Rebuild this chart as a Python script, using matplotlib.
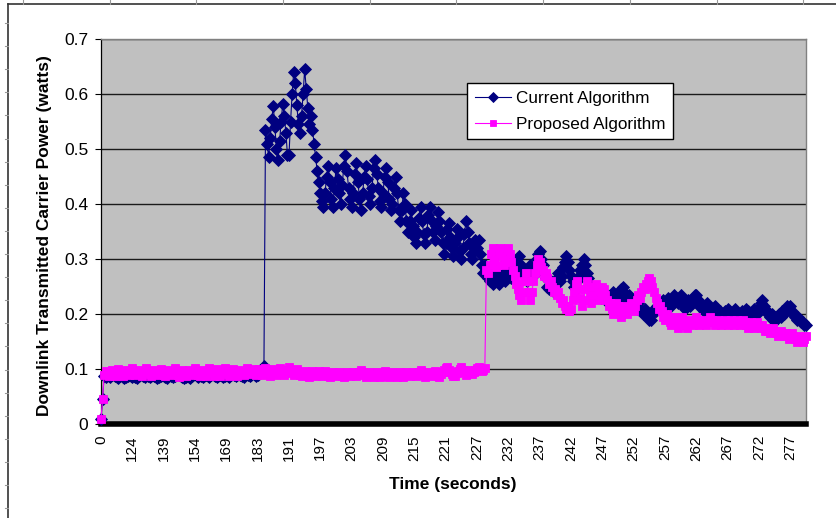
import matplotlib
matplotlib.use("Agg")
import matplotlib.pyplot as plt
from matplotlib.lines import Line2D

plt.rcParams['font.family'] = ['Liberation Sans', 'DejaVu Sans']

# ---------------- data ----------------
tick_labels = ['0', '124', '139', '154', '169', '183', '191', '197', '203', '209',
               '215', '221', '227', '232', '237', '242', '247', '252', '257', '262',
               '267', '272', '277']
tick_step = 20   # samples between labelled categories

current_power = [
    # 0
    0.010, 0.045, 0.088, 0.086, 0.090, 0.087, 0.085, 0.089, 0.091, 0.088,
    0.086, 0.084, 0.087, 0.089, 0.086, 0.083, 0.085, 0.088, 0.090, 0.087,
    # 124
    0.085, 0.088, 0.086, 0.084, 0.087, 0.089, 0.091, 0.088, 0.086, 0.089,
    0.087, 0.085, 0.088, 0.090, 0.087, 0.085, 0.083, 0.086, 0.088, 0.090,
    # 139
    0.088, 0.086, 0.084, 0.087, 0.089, 0.087, 0.085, 0.088, 0.090, 0.092,
    0.089, 0.087, 0.085, 0.083, 0.086, 0.088, 0.086, 0.084, 0.087, 0.089,
    # 154
    0.091, 0.088, 0.086, 0.089, 0.087, 0.085, 0.088, 0.090, 0.088, 0.086,
    0.089, 0.091, 0.089, 0.087, 0.085, 0.088, 0.090, 0.087, 0.086, 0.088,
    # 169
    0.090, 0.088, 0.086, 0.089, 0.091, 0.089, 0.087, 0.090, 0.092, 0.090,
    0.088, 0.086, 0.089, 0.091, 0.089, 0.087, 0.090, 0.092, 0.090, 0.088,
    # 183
    0.090, 0.092, 0.094, 0.097, 0.105, 0.535, 0.510, 0.485, 0.520, 0.555,
    0.578, 0.540, 0.500, 0.480, 0.515, 0.550, 0.582, 0.560, 0.530, 0.490,
    # 191
    0.490, 0.550, 0.600, 0.640, 0.620, 0.580, 0.545, 0.530, 0.560, 0.600,
    0.645, 0.610, 0.575, 0.545, 0.560, 0.535, 0.510, 0.485, 0.460, 0.440,
    # 197
    0.420, 0.405, 0.395, 0.420, 0.450, 0.470, 0.440, 0.410, 0.395, 0.430,
    0.465, 0.445, 0.420, 0.400, 0.435, 0.470, 0.490, 0.460, 0.430, 0.410,
    # 203
    0.395, 0.420, 0.455, 0.475, 0.440, 0.410, 0.390, 0.420, 0.450, 0.470,
    0.445, 0.415, 0.400, 0.430, 0.465, 0.480, 0.455, 0.430, 0.405, 0.395,
    # 209
    0.420, 0.450, 0.465, 0.440, 0.410, 0.390, 0.400, 0.430, 0.450, 0.420,
    0.390, 0.370, 0.390, 0.420, 0.400, 0.370, 0.350, 0.370, 0.390, 0.360,
    # 215
    0.340, 0.330, 0.350, 0.375, 0.395, 0.370, 0.345, 0.330, 0.350, 0.380,
    0.395, 0.370, 0.350, 0.335, 0.360, 0.385, 0.370, 0.350, 0.330, 0.310,
    # 221
    0.330, 0.355, 0.365, 0.340, 0.320, 0.305, 0.330, 0.355, 0.340, 0.315,
    0.300, 0.320, 0.345, 0.370, 0.350, 0.330, 0.310, 0.300, 0.320, 0.335,
    # 227
    0.320, 0.335, 0.310, 0.290, 0.275, 0.290, 0.280, 0.265, 0.260, 0.270,
    0.255, 0.265, 0.280, 0.265, 0.255, 0.270, 0.285, 0.275, 0.260, 0.275,
    # 232
    0.290, 0.275, 0.265, 0.280, 0.295, 0.285, 0.290, 0.305, 0.290, 0.275,
    0.280, 0.270, 0.260, 0.275, 0.290, 0.280, 0.270, 0.285, 0.300, 0.310,
    # 237
    0.315, 0.300, 0.290, 0.275, 0.265, 0.250, 0.245, 0.260, 0.250, 0.240,
    0.255, 0.265, 0.275, 0.260, 0.270, 0.285, 0.295, 0.305, 0.295, 0.280,
    # 242
    0.270, 0.260, 0.250, 0.245, 0.260, 0.270, 0.280, 0.290, 0.300, 0.290,
    0.275, 0.265, 0.255, 0.245, 0.250, 0.240, 0.235, 0.245, 0.240, 0.230,
    # 247
    0.240, 0.230, 0.225, 0.235, 0.230, 0.220, 0.230, 0.240, 0.235, 0.225,
    0.220, 0.235, 0.245, 0.250, 0.240, 0.230, 0.225, 0.235, 0.230, 0.220,
    # 252
    0.225, 0.215, 0.210, 0.220, 0.210, 0.205, 0.200, 0.210, 0.200, 0.195,
    0.190, 0.190, 0.200, 0.210, 0.205, 0.215, 0.210, 0.220, 0.215, 0.225,
    # 257
    0.215, 0.220, 0.230, 0.225, 0.215, 0.225, 0.235, 0.230, 0.220, 0.230,
    0.235, 0.225, 0.215, 0.210, 0.220, 0.225, 0.215, 0.220, 0.230, 0.235,
    # 262
    0.235, 0.225, 0.215, 0.220, 0.210, 0.205, 0.215, 0.220, 0.210, 0.200,
    0.210, 0.205, 0.215, 0.210, 0.200, 0.205, 0.200, 0.195, 0.205, 0.200,
    # 267
    0.210, 0.205, 0.195, 0.200, 0.205, 0.210, 0.200, 0.195, 0.200, 0.205,
    0.195, 0.200, 0.210, 0.205, 0.200, 0.195, 0.200, 0.210, 0.205, 0.200,
    # 272
    0.210, 0.220, 0.225, 0.215, 0.210, 0.205, 0.200, 0.195, 0.200, 0.190,
    0.195, 0.190, 0.195, 0.200, 0.195, 0.205, 0.200, 0.210, 0.215, 0.210,
    # 277
    0.215, 0.205, 0.200, 0.195, 0.190, 0.195, 0.190, 0.185, 0.185, 0.180,
    0.180,
]

proposed_power = [
    # 0
    0.010, 0.045, 0.090, 0.097, 0.093, 0.088, 0.094, 0.099, 0.093, 0.088,
    0.095, 0.100, 0.096, 0.090, 0.087, 0.094, 0.099, 0.095, 0.089, 0.096,
    # 124
    0.101, 0.096, 0.089, 0.093, 0.099, 0.094, 0.088, 0.092, 0.097, 0.102,
    0.097, 0.091, 0.087, 0.094, 0.099, 0.095, 0.089, 0.093, 0.100, 0.096,
    # 139
    0.090, 0.087, 0.094, 0.099, 0.095, 0.089, 0.096, 0.101, 0.096, 0.089,
    0.086, 0.092, 0.098, 0.094, 0.088, 0.094, 0.099, 0.095, 0.089, 0.096,
    # 154
    0.101, 0.096, 0.090, 0.087, 0.094, 0.099, 0.094, 0.088, 0.096, 0.102,
    0.098, 0.092, 0.088, 0.094, 0.100, 0.095, 0.088, 0.092, 0.098, 0.102,
    # 169
    0.097, 0.091, 0.088, 0.095, 0.100, 0.096, 0.090, 0.087, 0.094, 0.099,
    0.094, 0.089, 0.096, 0.101, 0.097, 0.091, 0.096, 0.100, 0.095, 0.090,
    # 183
    0.095, 0.100, 0.096, 0.090, 0.097, 0.102, 0.098, 0.092, 0.088, 0.095,
    0.100, 0.096, 0.090, 0.097, 0.102, 0.098, 0.093, 0.089, 0.094, 0.099,
    # 191
    0.103, 0.098, 0.093, 0.089, 0.096, 0.100, 0.095, 0.090, 0.087, 0.092,
    0.097, 0.093, 0.088, 0.086, 0.091, 0.096, 0.092, 0.087, 0.091, 0.096,
    # 197
    0.092, 0.087, 0.091, 0.096, 0.092, 0.088, 0.086, 0.090, 0.095, 0.091,
    0.087, 0.090, 0.095, 0.091, 0.087, 0.085, 0.089, 0.094, 0.090, 0.087,
    # 203
    0.091, 0.095, 0.091, 0.087, 0.091, 0.095, 0.098, 0.094, 0.090, 0.086,
    0.090, 0.095, 0.091, 0.087, 0.085, 0.089, 0.094, 0.090, 0.086, 0.089,
    # 209
    0.093, 0.097, 0.093, 0.088, 0.086, 0.090, 0.095, 0.091, 0.087, 0.085,
    0.089, 0.094, 0.090, 0.086, 0.089, 0.094, 0.090, 0.087, 0.091, 0.095,
    # 215
    0.091, 0.087, 0.091, 0.095, 0.098, 0.094, 0.090, 0.086, 0.090, 0.095,
    0.091, 0.088, 0.092, 0.097, 0.093, 0.088, 0.086, 0.091, 0.095, 0.099,
    # 221
    0.101, 0.103, 0.099, 0.095, 0.091, 0.088, 0.087, 0.092, 0.096, 0.100,
    0.103, 0.099, 0.094, 0.090, 0.095, 0.099, 0.095, 0.091, 0.094, 0.098,
    # 227
    0.101, 0.103, 0.099, 0.096, 0.099, 0.102, 0.280, 0.275, 0.290, 0.310,
    0.320, 0.300, 0.285, 0.290, 0.310, 0.320, 0.305, 0.290, 0.300, 0.315,
    # 232
    0.320, 0.310, 0.295, 0.280, 0.270, 0.255, 0.245, 0.235, 0.225, 0.240,
    0.260, 0.275, 0.260, 0.240, 0.225, 0.240, 0.260, 0.275, 0.290, 0.300,
    # 237
    0.295, 0.285, 0.280, 0.270, 0.275, 0.265, 0.255, 0.260, 0.250, 0.240,
    0.245, 0.235, 0.240, 0.230, 0.220, 0.225, 0.215, 0.210, 0.215, 0.205,
    # 242
    0.210, 0.225, 0.240, 0.255, 0.260, 0.245, 0.230, 0.215, 0.225, 0.245,
    0.260, 0.250, 0.235, 0.220, 0.235, 0.250, 0.255, 0.240, 0.225, 0.235,
    # 247
    0.250, 0.245, 0.235, 0.225, 0.215, 0.220, 0.210, 0.200, 0.210, 0.220,
    0.215, 0.205, 0.195, 0.205, 0.215, 0.210, 0.200, 0.210, 0.220, 0.215,
    # 252
    0.205, 0.215, 0.225, 0.235, 0.230, 0.240, 0.250, 0.245, 0.255, 0.260,
    0.265, 0.260, 0.250, 0.240, 0.230, 0.220, 0.210, 0.215, 0.205, 0.195,
    # 257
    0.190, 0.200, 0.195, 0.185, 0.180, 0.190, 0.195, 0.185, 0.175, 0.180,
    0.190, 0.195, 0.185, 0.180, 0.175, 0.185, 0.190, 0.185, 0.180, 0.190,
    # 262
    0.195, 0.190, 0.180, 0.185, 0.190, 0.185, 0.180, 0.185, 0.190, 0.195,
    0.190, 0.185, 0.180, 0.185, 0.190, 0.185, 0.180, 0.185, 0.190, 0.185,
    # 267
    0.180, 0.185, 0.190, 0.185, 0.180, 0.185, 0.190, 0.185, 0.180, 0.185,
    0.190, 0.185, 0.180, 0.175, 0.180, 0.185, 0.180, 0.175, 0.180, 0.185,
    # 272
    0.180, 0.175, 0.180, 0.175, 0.170, 0.175, 0.170, 0.165, 0.170, 0.175,
    0.170, 0.165, 0.160, 0.165, 0.170, 0.165, 0.160, 0.165, 0.160, 0.155,
    # 277
    0.160, 0.165, 0.160, 0.155, 0.150, 0.155, 0.160, 0.155, 0.150, 0.155,
    0.160,
]

series_names = ['Current Algorithm', 'Proposed Algorithm']
y_ticks = [0, 0.1, 0.2, 0.3, 0.4, 0.5, 0.6, 0.7]
y_tick_labels = ['0', '0.1', '0.2', '0.3', '0.4', '0.5', '0.6', '0.7']

# ---------------- figure ----------------
W, H = 837, 518
fig = plt.figure(figsize=(W / 100, H / 100), dpi=100)
fig.patch.set_facecolor('white')

ax = fig.add_axes([101 / W, 1 - 424 / H, (806 - 101) / W, (424 - 39) / H])
ax.set_facecolor('#C0C0C0')

x_cur = list(range(len(current_power)))
x_pro = list(range(len(proposed_power)))

ax.plot(x_cur, current_power, color='#000080', lw=0.8, marker='D',
        markersize=6.2, markerfacecolor='#000080', markeredgecolor='#000080',
        markeredgewidth=0.6, clip_on=False, zorder=3, label=series_names[0])
ax.plot(x_pro, proposed_power, color='#FF00FF', lw=0.8, marker='s',
        markersize=5.8, markerfacecolor='#FF00FF', markeredgecolor='#FF00FF',
        markeredgewidth=0.6, clip_on=False, zorder=4, label=series_names[1])

n = max(len(current_power), len(proposed_power))
ax.set_xlim(0, n - 1)
ax.set_ylim(0, 0.7)

ax.set_yticks(y_ticks)
ax.set_yticklabels(y_tick_labels)
ax.set_xticks([i * tick_step for i in range(len(tick_labels))])
ax.set_xticklabels(tick_labels, rotation=90)

ax.tick_params(axis='y', direction='out', length=4, width=0.8, color='black',
               labelsize=12.5, pad=5)
ax.tick_params(axis='x', length=0, labelsize=11, pad=8)

ax.yaxis.grid(True, color='#1a1a1a', lw=1.0)
ax.set_axisbelow(True)

for s in ['top', 'right']:
    ax.spines[s].set_color('#808080')
    ax.spines[s].set_linewidth(1.0)
ax.spines['left'].set_color('black')
ax.spines['left'].set_linewidth(0.9)
ax.spines['bottom'].set_color('black')
ax.spines['bottom'].set_linewidth(4.0)
ax.spines['bottom'].set_zorder(2.5)

# axis titles
fig.text(453 / W, 1 - 484 / H, 'Time (seconds)', ha='center', va='center',
         fontsize=12.5, fontweight='bold')
fig.text(45 / W, 1 - 236 / H, 'Downlink Transmitted Carrier Power (watts)',
         ha='center', va='center', rotation=90, fontsize=12.5,
         fontweight='bold')

# legend
leg = ax.legend(loc='upper left', bbox_to_anchor=(467 / W, 1 - 83 / H),
                bbox_transform=fig.transFigure, borderaxespad=0,
                fontsize=12.3, numpoints=1, fancybox=False, framealpha=1,
                edgecolor='black', handlelength=2.1, handletextpad=0.3,
                borderpad=0.45, labelspacing=0.65)
leg.get_frame().set_linewidth(1.0)
leg.set_zorder(10)
for h in leg.legend_handles:
    h.set_markersize(5.0)

# worksheet frame (ruler-like border around chart)
fig.add_artist(Line2D([8 / W, 8 / W], [0, 1 - 4 / H], transform=fig.transFigure,
                      color='#333333', lw=1.2))
fig.add_artist(Line2D([8 / W, 1], [1 - 4 / H, 1 - 4 / H], transform=fig.transFigure,
                      color='#333333', lw=1.2))
for k in range(22):
    yy = 23 + k * 23.1
    if yy > H:
        break
    fig.add_artist(Line2D([5 / W, 8 / W], [1 - yy / H, 1 - yy / H],
                          transform=fig.transFigure, color='#999999', lw=0.8))
for k in range(10):
    xx = 23 + k * 86.7
    if xx > W:
        break
    fig.add_artist(Line2D([xx / W, xx / W], [1 - 0 / H, 1 - 4 / H],
                          transform=fig.transFigure, color='#999999', lw=0.8))

fig.savefig('out.png', dpi=100)
